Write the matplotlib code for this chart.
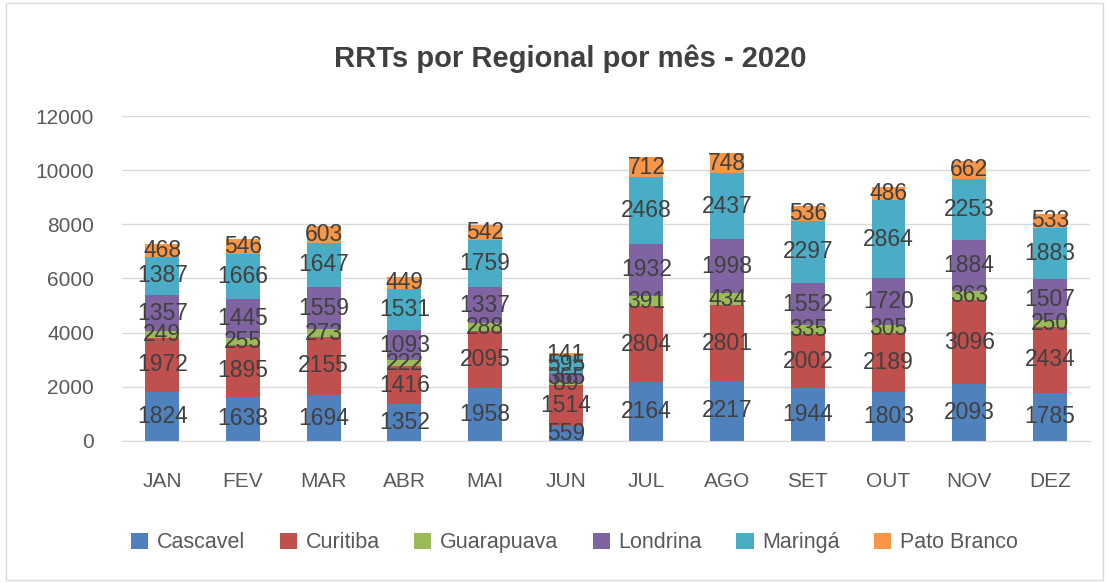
import matplotlib
matplotlib.use("Agg")
import matplotlib.pyplot as plt
from matplotlib.patches import Rectangle
import numpy as np

months = ["JAN", "FEV", "MAR", "ABR", "MAI", "JUN", "JUL", "AGO", "SET", "OUT", "NOV", "DEZ"]
cascavel = [1824, 1638, 1694, 1352, 1958, 559, 2164, 2217, 1944, 1803, 2093, 1785]
curitiba = [1972, 1895, 2155, 1416, 2095, 1514, 2804, 2801, 2002, 2189, 3096, 2434]
guarapuava = [249, 255, 273, 222, 288, 89, 391, 434, 335, 305, 363, 250]
londrina = [1357, 1445, 1559, 1093, 1337, 365, 1932, 1998, 1552, 1720, 1884, 1507]
maringa = [1387, 1666, 1647, 1531, 1759, 595, 2468, 2437, 2297, 2864, 2253, 1883]
pato_branco = [468, 546, 603, 449, 542, 141, 712, 748, 536, 486, 662, 533]

series = [
    ("Cascavel", cascavel, "#4F81BD"),
    ("Curitiba", curitiba, "#C0504D"),
    ("Guarapuava", guarapuava, "#9BBB59"),
    ("Londrina", londrina, "#8064A2"),
    ("Maringá", maringa, "#4BACC6"),
    ("Pato Branco", pato_branco, "#F79646"),
]

plt.rcParams['font.family'] = ['Liberation Sans', 'DejaVu Sans']

fig = plt.figure(figsize=(11.09, 5.83), dpi=100)
ax = fig.add_axes([0.110, 0.2436, 0.873, 0.5574])

x = np.arange(len(months))
bottom = np.zeros(len(months))
handles = []
for name, vals, col in series:
    v = np.array(vals, dtype=float)
    bars = ax.bar(x, v, bottom=bottom, width=0.42, color=col, label=name, zorder=2)
    handles.append(bars)
    ax.bar_label(bars, labels=[str(int(a)) for a in v], label_type='center',
                 fontsize=16.5, color='#404040', zorder=3)
    bottom += v

ax.set_xlim(-0.5, len(months) - 0.5)
ax.set_ylim(0, 12000)
ax.set_yticks(np.arange(0, 12001, 2000))
ax.set_xticks(x)
ax.set_xticklabels(months)
ax.tick_params(axis='both', length=0, labelsize=15, colors='#595959')
ax.tick_params(axis='x', pad=22)
ax.tick_params(axis='y', pad=20)
ax.yaxis.grid(True, color='#D9D9D9', linewidth=1, zorder=0)
ax.set_axisbelow(True)
for s in ['top', 'right', 'left']:
    ax.spines[s].set_visible(False)
ax.spines['bottom'].set_color('#D9D9D9')

fig.text(0.514, 0.90, "RRTs por Regional por mês - 2020", ha='center', va='center',
         fontsize=21, fontweight='bold', color='#404040')

fig.legend(handles=handles, labels=[s[0] for s in series], loc='center',
           bbox_to_anchor=(0.518, 0.069), ncol=6, frameon=False, fontsize=15.5,
           labelcolor='#595959', handlelength=0.8, handleheight=0.8,
           columnspacing=1.6, handletextpad=0.4)

fig.patches.append(Rectangle((0.005, 0.005), 0.99, 0.99, transform=fig.transFigure,
                             fill=False, edgecolor='#D9D9D9', linewidth=1))

fig.savefig("out.png", dpi=100)
